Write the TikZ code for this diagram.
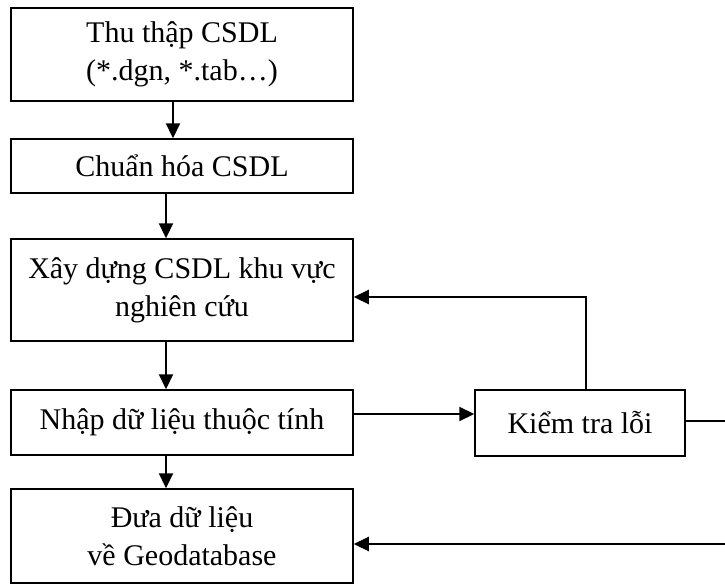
\documentclass[tikz,border=0pt]{standalone}
\usepackage{fontspec}
\setmainfont{Liberation Serif}
\usetikzlibrary{arrows.meta,calc}
\begin{document}
\begin{tikzpicture}[x=1pt,y=-1pt,
  box/.style={draw,line width=1.5pt,minimum width=342pt,align=center,inner sep=0pt,font=\fontsize{30}{38}\selectfont},
  arr/.style={line width=2.2pt,-{Triangle[length=15pt,width=14pt]}},
  ln/.style={line width=2.2pt}]
\useasboundingbox (0,0) rectangle (725,584);
\node[box,minimum height=93pt] (B1) at (182,54.5) {Thu thập CSDL\\(*.dgn, *.tab…)};
\node[box,minimum height=54pt] (B2) at (182,166) {Chuẩn hóa CSDL};
\node[box,minimum height=102pt] (B3) at (182,290) {Xây dựng CSDL khu vực\\nghiên cứu};
\node[box,minimum height=65pt] (B4) at (182,422.5) {Nhập dữ liệu thuộc tính};
\node[box,minimum height=94pt] (B5) at (182,536) {Đưa dữ liệu\\về Geodatabase};
\node[box,minimum width=210pt,minimum height=66pt] (K) at (580,423) {Kiểm tra lỗi};
\coordinate (r1) at (728,421);
\coordinate (r2) at (728,544);
\draw[arr] ([xshift=-9pt]B1.south) -- ([xshift=-9pt]B2.north);
\draw[arr] ([xshift=-16pt]B2.south) -- ([xshift=-16pt]B3.north);
\draw[arr] ([xshift=-16pt]B3.south) -- ([xshift=-16pt]B4.north);
\draw[arr] ([xshift=-16pt]B4.south) -- ([xshift=-16pt]B5.north);
\draw[arr] ([yshift=8.5pt]B4.east) -- ([yshift=8.5pt]B4.east -| K.west);
\draw[arr] ([xshift=6pt]K.north) |- ([yshift=-7pt]B3.east);
\draw[ln] ([yshift=2pt]K.east) -- (r1) -- (r2);
\draw[arr] (r2) -- (r2 -| B5.east);
\end{tikzpicture}
\end{document}
